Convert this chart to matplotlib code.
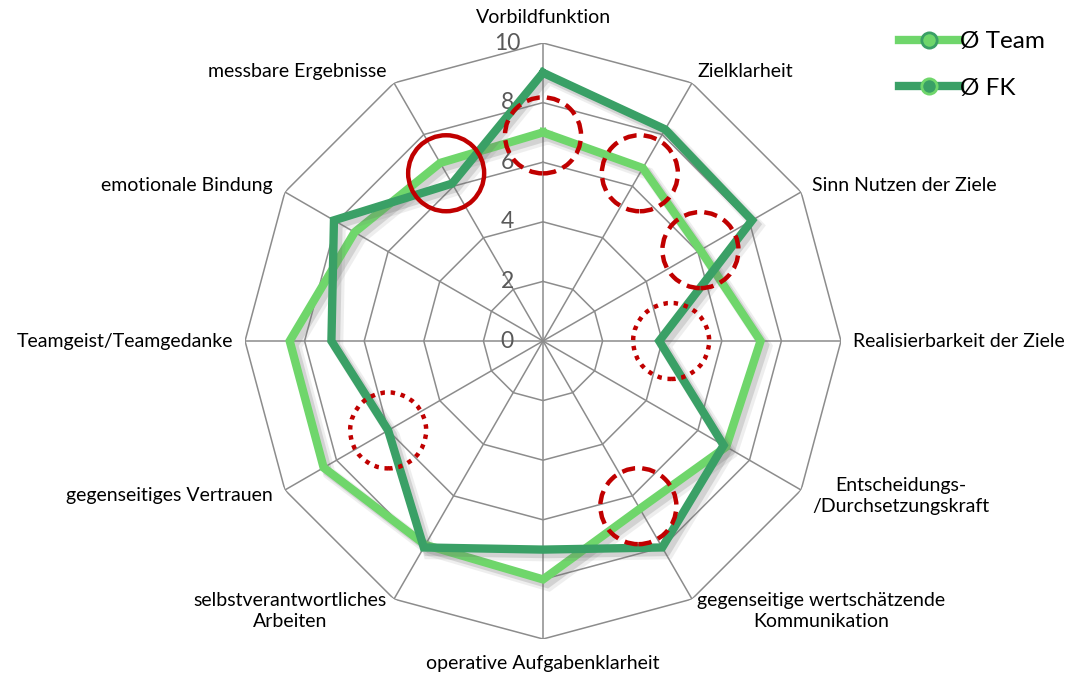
import numpy as np
import matplotlib
matplotlib.use('Agg')
from matplotlib import pyplot as plt
from matplotlib import patheffects as pe
from matplotlib.patches import Circle
from matplotlib.lines import Line2D
from matplotlib.transforms import IdentityTransform

plt.rcParams['font.family'] = ['Lato', 'DejaVu Sans']

# categories, clockwise from the top
categories = ['Vorbildfunktion', 'Zielklarheit', 'Sinn Nutzen der Ziele',
              'Realisierbarkeit der Ziele', 'Entscheidungs-\n/Durchsetzungskraft',
              'gegenseitige wertschätzende\nKommunikation', 'operative Aufgabenklarheit',
              'selbstverantwortliches\nArbeiten', 'gegenseitiges Vertrauen',
              'Teamgeist/Teamgedanke', 'emotionale Bindung', 'messbare Ergebnisse']
team = [7.0, 6.7, 6.1, 7.3, 7.1, 6.5, 8.0, 7.9, 8.5, 8.5, 7.3, 6.9]
fk = [9.0, 8.2, 8.1, 3.9, 7.0, 8.0, 7.0, 8.0, 6.0, 7.1, 8.1, 6.1]
ticks = [0, 2, 4, 6, 8, 10]
series_names = ['Ø Team', 'Ø FK']

# red markings: (category index, value, style)
marks = [(11, 6.5, 'solid'), (0, 6.9, 'dashed'), (1, 6.5, 'dashed'),
         (2, 6.1, 'dashed'), (5, 6.4, 'dashed'), (3, 4.3, 'dotted'),
         (8, 6.0, 'dotted')]

light = '#6FD66B'
dark = '#3AA066'
red = '#C00000'
grid_c = '#8C8C8C'

n = len(categories)
angles = np.linspace(0, 2 * np.pi, n, endpoint=False)
ang_c = np.append(angles, angles[0])

fig = plt.figure(figsize=(10.83, 6.77), dpi=100)
ax = fig.add_axes([245 / 1083, 38 / 677, 596 / 1083, 596 / 677], projection='polar')
ax.set_theta_zero_location('N')
ax.set_theta_direction(-1)
ax.set_ylim(0, 10)
ax.grid(False)
ax.spines['polar'].set_visible(False)
ax.set_xticks([])
ax.set_yticks([])

# polygon grid
for t in ticks[1:]:
    ax.plot(ang_c, [t] * (n + 1), color=grid_c, lw=1.1, zorder=1)
for a in angles:
    ax.plot([a, a], [0, 10], color=grid_c, lw=1.1, zorder=1)

# soft offset shadow like the Excel line effect
shadow = [pe.SimpleLineShadow(offset=(4, -4), shadow_color='#777777', alpha=0.12, linewidth=9),
          pe.SimpleLineShadow(offset=(3, -3), shadow_color='#666666', alpha=0.2, linewidth=6.5),
          pe.Normal()]
for vals, col in [(team, light), (fk, dark)]:
    ax.plot(ang_c, vals + vals[:1], color=col, lw=6, zorder=3,
            solid_joinstyle='miter', path_effects=shadow)

# radial tick labels
for t in ticks:
    ax.annotate(str(t), xy=(0, t), xytext=(-36, 0), textcoords='offset pixels',
                ha='center', va='center', fontsize=16.5, color='#595959', zorder=2)

# category labels
offsets = [(0, 17), (5, 11), (11, 7), (12, 0), (11, -6), (5, -12),
           (0, -24), (-7, -12), (-12, -5), (-12, 0), (-12, 7), (-7, 11)]
for i, lab in enumerate(categories):
    dx, dy = offsets[i]
    if dx > 0:
        ha = 'left'
    elif dx < 0:
        ha = 'right'
    else:
        ha = 'center'
    va = 'bottom' if i == 0 else 'center'
    ax.annotate(lab, xy=(angles[i], 10), xytext=(dx, dy), textcoords='offset pixels',
                ha=ha, va=va, fontsize=14, color='black', multialignment='center',
                linespacing=1.3, annotation_clip=False)

# red circles
fig.canvas.draw()
styles = {'solid': '-', 'dashed': (0, (3, 1.6)), 'dotted': (0, (1, 1.3))}
for idx, val, st in marks:
    px = ax.transData.transform((angles[idx], val))
    c = Circle(px, 38, transform=IdentityTransform(), fill=False, edgecolor=red,
               lw=3.2, linestyle=styles[st], zorder=5)
    fig.add_artist(c)

# legend
handles = [Line2D([], [], color=light, lw=6, marker='o', markersize=11,
                  markerfacecolor=light, markeredgecolor=dark, markeredgewidth=2),
           Line2D([], [], color=dark, lw=6, marker='o', markersize=11,
                  markerfacecolor=dark, markeredgecolor=light, markeredgewidth=2)]
fig.legend(handles, series_names, loc='upper left', bbox_to_anchor=(899 / 1083, 1 - 31 / 677),
           frameon=False, fontsize=17.5, handlelength=2.5, handletextpad=0.02,
           labelspacing=1.05, borderpad=0, borderaxespad=0)

fig.savefig('out.png', dpi=100)
